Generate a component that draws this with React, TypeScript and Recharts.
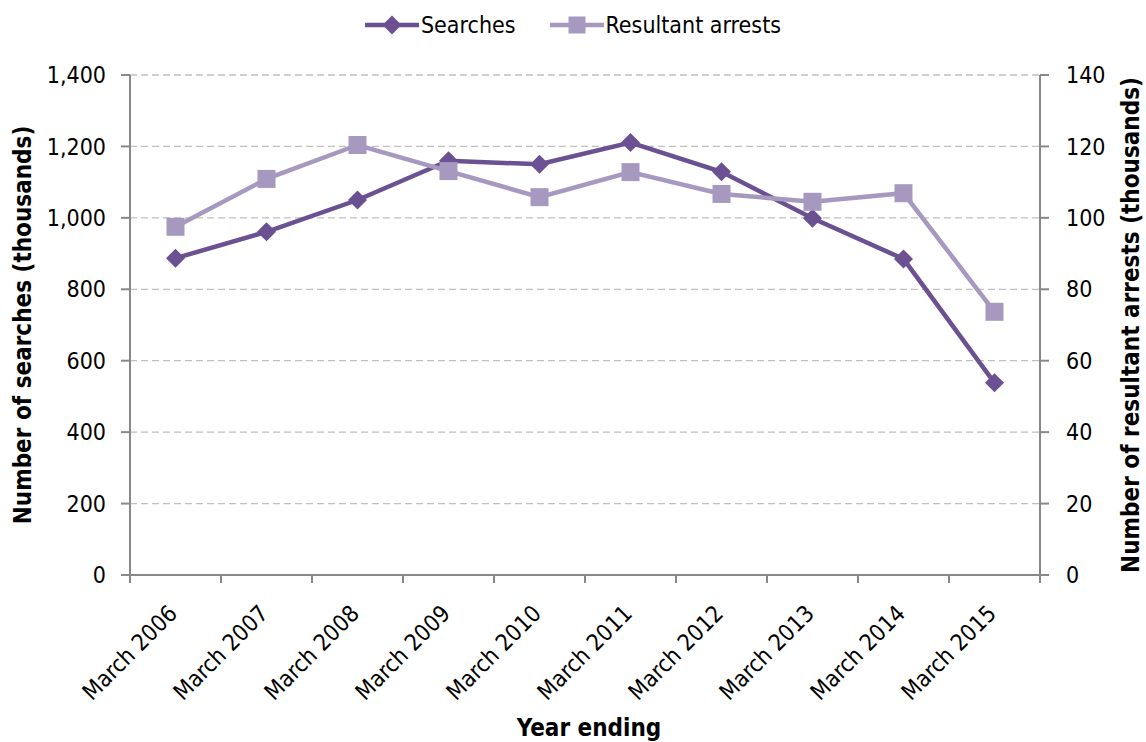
import React from 'react';
import { LineChart, Line, XAxis, YAxis, CartesianGrid, Legend, Label } from 'recharts';

const categories = ['March 2006', 'March 2007', 'March 2008', 'March 2009', 'March 2010', 'March 2011', 'March 2012', 'March 2013', 'March 2014', 'March 2015'];
const searches = [887, 961, 1050, 1160, 1150, 1211, 1129, 999, 885, 538];
const arrests = [97.5, 110.9, 120.4, 113.1, 105.8, 112.8, 106.7, 104.5, 106.9, 73.7];
const leftTicks = [0, 200, 400, 600, 800, 1000, 1200, 1400];
const rightTicks = [0, 20, 40, 60, 80, 100, 120, 140];
const seriesNames = ['Searches', 'Resultant arrests'];
const leftTitle = 'Number of searches (thousands)';
const rightTitle = 'Number of resultant arrests (thousands)';
const xTitle = 'Year ending';

const data = categories.map((c, i) => ({ year: c, searches: searches[i], arrests: arrests[i] }));

const FONT = "'DejaVu Sans Condensed', 'DejaVu Sans', sans-serif";
const DARK = '#6B5191';
const LIGHT = '#A798C0';
const AXIS = '#888888';
const GRID = '#C0C0C0';
const colors = [DARK, LIGHT];
const X_TICK = 8;

const DiamondDot = (props: any) => {
  const { cx, cy, index } = props;
  if (cx == null || cy == null) return null;
  const r = 9.5;
  return <polygon key={`d-${index}`} points={`${cx},${cy - r} ${cx + r},${cy} ${cx},${cy + r} ${cx - r},${cy}`} fill={DARK} />;
};

const SquareDot = (props: any) => {
  const { cx, cy, index } = props;
  if (cx == null || cy == null) return null;
  const s = 18;
  return <rect key={`s-${index}`} x={cx - s / 2} y={cy - s / 2} width={s} height={s} fill={LIGHT} />;
};

const XTick = (props: any) => {
  const { x, y, payload, index } = props;
  const off = payload && payload.offset != null ? payload.offset : 45.5;
  const last = index === categories.length - 1;
  const tx = x + 3;
  const ty = y + 32;
  return (
    <g>
      <line x1={x - off} y1={y - X_TICK} x2={x - off} y2={y} stroke={AXIS} strokeWidth={2} />
      {last && <line x1={x + off} y1={y - X_TICK} x2={x + off} y2={y} stroke={AXIS} strokeWidth={2} />}
      <text x={tx} y={ty} transform={`rotate(-45, ${tx}, ${ty})`} textAnchor="end" fontFamily={FONT} fontSize={23} fill="#000">
        {payload.value}
      </text>
    </g>
  );
};

const renderLegend = () => (
  <div style={{ display: 'flex', justifyContent: 'center', alignItems: 'center', fontFamily: FONT, fontSize: 23, color: '#000' }}>
    {seriesNames.map((name, i) => (
      <div key={name} style={{ display: 'flex', alignItems: 'center', marginLeft: i ? 34 : 0 }}>
        <svg width={54} height={24}>
          <line x1={0} y1={12} x2={54} y2={12} stroke={colors[i]} strokeWidth={4.5} />
          {i === 0 ? (
            <polygon points="27,2.5 36.5,12 27,21.5 17.5,12" fill={colors[i]} />
          ) : (
            <rect x={18.5} y={3.5} width={17} height={17} fill={colors[i]} />
          )}
        </svg>
        <span style={{ marginLeft: 2 }}>{name}</span>
      </div>
    ))}
  </div>
);

const fmt = (v: number) => v.toLocaleString('en-US');

export default function App() {
  return (
    <div style={{ position: 'absolute', left: 0, top: 0, background: '#fff' }}>
      <LineChart width={1146} height={742} data={data} margin={{ top: 75, right: 0, left: 0, bottom: 0 }}>
        <CartesianGrid yAxisId="left" vertical={false} stroke={GRID} strokeDasharray="7 4" strokeWidth={1.3} />
        <XAxis
          dataKey="year"
          scale="band"
          interval={0}
          height={167}
          tickSize={X_TICK}
          tickMargin={0}
          tickLine={false}
          axisLine={{ stroke: AXIS, strokeWidth: 2 }}
          tick={<XTick />}
        >
          <Label
            content={(p: any) => {
              const vb = p.viewBox;
              return (
                <text x={vb.x + vb.width / 2 + 4} y={728} textAnchor="middle" dominantBaseline="central" fontFamily={FONT} fontWeight="bold" fontSize={24} fill="#000">
                  {xTitle}
                </text>
              );
            }}
          />
        </XAxis>
        <YAxis
          yAxisId="left"
          width={130}
          domain={[0, 1400]}
          ticks={leftTicks}
          tickFormatter={fmt}
          tickSize={9}
          tickMargin={15}
          axisLine={{ stroke: AXIS, strokeWidth: 2 }}
          tickLine={{ stroke: AXIS, strokeWidth: 2 }}
          tick={{ fill: '#000', fontSize: 23, fontFamily: FONT }}
        >
          <Label
            content={(p: any) => {
              const vb = p.viewBox;
              const cx = vb.x + 23;
              const cy = vb.y + vb.height / 2;
              return (
                <text x={cx} y={cy} transform={`rotate(-90, ${cx}, ${cy})`} textAnchor="middle" dominantBaseline="central" fontFamily={FONT} fontWeight="bold" fontSize={24} fill="#000">
                  {leftTitle}
                </text>
              );
            }}
          />
        </YAxis>
        <YAxis
          yAxisId="right"
          orientation="right"
          width={106}
          domain={[0, 140]}
          ticks={rightTicks}
          tickSize={9}
          tickMargin={17}
          axisLine={{ stroke: AXIS, strokeWidth: 2 }}
          tickLine={{ stroke: AXIS, strokeWidth: 2 }}
          tick={{ fill: '#000', fontSize: 23, fontFamily: FONT }}
        >
          <Label
            content={(p: any) => {
              const vb = p.viewBox;
              const cx = vb.x + 91;
              const cy = vb.y + vb.height / 2;
              return (
                <text x={cx} y={cy} transform={`rotate(-90, ${cx}, ${cy})`} textAnchor="middle" dominantBaseline="central" fontFamily={FONT} fontWeight="bold" fontSize={24} fill="#000">
                  {rightTitle}
                </text>
              );
            }}
          />
        </YAxis>
        <Legend verticalAlign="middle" wrapperStyle={{ top: 12, left: 0, width: 1146 }} content={renderLegend} />
        <Line
          yAxisId="left"
          type="linear"
          dataKey="searches"
          name={seriesNames[0]}
          stroke={DARK}
          strokeWidth={4.5}
          dot={(p: any) => <DiamondDot {...p} key={`dd-${p.index}`} />}
          activeDot={false}
          isAnimationActive={false}
        />
        <Line
          yAxisId="right"
          type="linear"
          dataKey="arrests"
          name={seriesNames[1]}
          stroke={LIGHT}
          strokeWidth={4.5}
          dot={(p: any) => <SquareDot {...p} key={`sd-${p.index}`} />}
          activeDot={false}
          isAnimationActive={false}
        />
      </LineChart>
    </div>
  );
}
